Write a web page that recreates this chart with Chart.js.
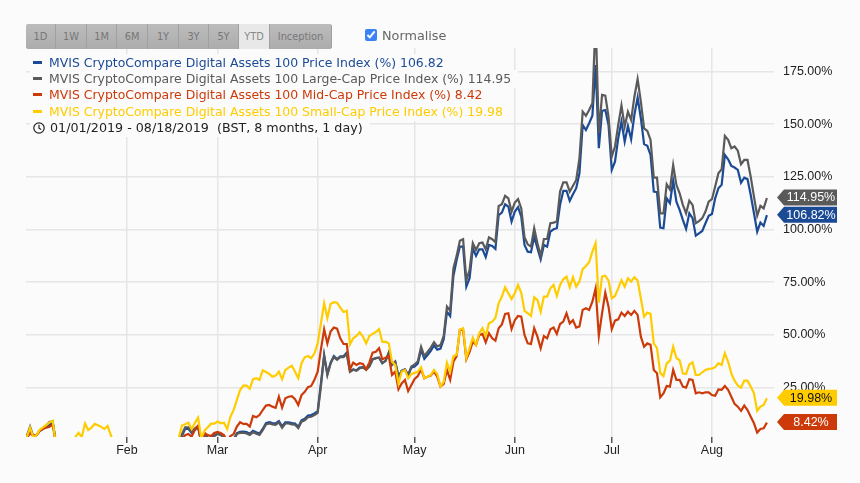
<!DOCTYPE html>
<html>
<head>
<meta charset="utf-8">
<script src="https://cdn.jsdelivr.net/npm/chart.js@4/dist/chart.umd.min.js"></script>
<style>
  html, body { margin: 0; padding: 0; background: #fbfbfb; }
  #wrap { position: relative; width: 860px; height: 483px; overflow: hidden; font-family: "DejaVu Sans", sans-serif; }
  canvas { position: absolute; left: 0; top: 0; }
  #buttons { position: absolute; left: 26px; top: 24px; height: 25px; display: flex; border-radius: 3px; overflow: hidden; box-shadow: 0 0 0 1px #a3a3a3 inset; }
  #buttons div { height: 25px; line-height: 25px; text-align: center; font-size: 9.8px; color: #777; background: linear-gradient(#bcbcbc, #acacac); border-right: 1px solid #a0a0a0; box-sizing: border-box; }
  #buttons div.on { background: #e8e8e8; color: #888; }
  #normalise { position: absolute; left: 365px; top: 27px; font-size: 12.8px; color: #666; line-height: 17px; }
  #normalise input { position: absolute; left: 0; top: 2px; margin: 0; width: 12px; height: 12px; accent-color: #3b82f6; }
  #normalise span { margin-left: 17px; }
  .row { position: absolute; left: 30px; height: 18px; line-height: 18px; font-size: 12.45px; white-space: nowrap; background: #fbfbfb; padding: 0 7px 0 3px; }
  .row i { display: inline-block; width: 9px; height: 3px; margin-right: 7px; vertical-align: 3px; }
  .row svg { vertical-align: -2px; margin-right: 5px; }
</style>
</head>
<body>
<div id="wrap">
  <canvas id="chart" width="860" height="483"></canvas>
  <div id="buttons"></div>
  <div id="normalise"><input type="checkbox" checked><span>Normalise</span></div>
  <div id="legend"></div>
</div>
<script>
// one value per day, 1 Jan 2019 to 18 Aug 2019
const priceIndex = [
  1.5,5,2,2.5,4.5,5.5,6.5,7.5,8.5,-1,
  -4,-5,-6,-6,-6,-5,-4,-5,-4,-5,
  -5,-4,-4,-5,-5,-4,-6,-8,-10,-11,
  -13,-13,-14,-15,-16,-15,-16,-15,-14,-15,
  -14,-13,-12,-11,-9,-8,-6,-3,2,5.5,
  5.5,3.6,5,6.2,-1,3,1.2,1.2,2.3,3.3,
  2.8,1.8,-1,-1,0.5,3.4,4,4.2,3.9,3.2,
  4.5,3.8,3.2,5.4,8.2,8.6,8.2,8,9.1,6.7,
  8.6,8.6,8.2,8,6.4,9.5,10.2,11.8,12,12.8,
  13.9,27,40.5,31.5,36.9,40,38.6,39.9,39.9,41.6,
  32.9,33.7,33.2,34.5,34.7,33.7,35.3,38.5,39,39.2,
  36.6,37.7,41.6,35.8,37.3,30.2,33,33.7,31,34.5,
  35,36.5,43,38.7,40.5,42.5,45,43,43.5,48,
  61,59,78,85.5,91.9,91.9,72.9,76.9,91.1,87.5,
  90.6,90.6,86.9,92.7,92.2,90.8,106.9,108,112,110.9,
  103.8,108.5,110.6,106.1,92.7,89.5,89.2,96.6,91.1,85.9,
  92.7,91.9,99,100.1,100.6,111.7,118.3,118.3,113.6,116.7,
  119.6,126.7,149.6,147.2,150.4,154,178,138.6,156.3,156.7,
  149.6,128.3,132.2,143.3,151.2,141.7,149.1,142.8,154.4,162.6,
  152.8,140.5,139.7,135.4,118,117.7,100.9,100.6,114.8,112.5,
  123.2,113.2,109.3,104.6,100.3,107.7,105.4,97.1,98.2,99.3,
  103,106.5,107.4,114.8,119.6,121.2,135.4,133.3,130.2,129.4,
  128.3,122.2,124.6,123.9,116.4,107.7,99,103.3,101.7,106.82
];
const largeCap = [
  2,6.5,2,2.5,4.5,5.5,7,8.7,9,-1,
  -4,-5,-6,-6,-6,-5,-4,-5,-4,-5,
  -5,-4,-4,-5,-5,-4,-6,-8,-10,-11,
  -13,-13,-14,-15,-16,-15,-16,-15,-14,-15,
  -14,-13,-12,-11,-9,-8,-6,-3,3,6.2,
  6.2,4.1,5.7,6.8,-1,3,1,1,2,3,
  2.5,1.5,-1,-1,0,3,3.6,3.6,3.3,2.6,
  3.9,3.2,2.6,4.8,7.5,8,7.6,7.4,8.5,6,
  8,8,7.6,7.4,5.8,8.8,9.5,11,11.2,12,
  13,25.5,40,31,36.4,39.5,38.2,39.5,39.5,41,
  32.5,33.5,33,34.2,34.6,33.5,35,38.3,39,39.2,
  36.6,37.7,41.6,35.8,37.3,30.2,33,33.7,31,35,
  36,37.5,44.4,40,42,44,46.6,44.6,45.2,49.6,
  63.5,61.5,81.6,87.5,94.7,95.4,76,80.8,93.5,90.3,
  93.5,93.8,90.6,96.3,95.4,94,111.2,112,116,114.8,
  108.5,112.8,114.4,110,96.3,93,91.9,100.6,93.5,87.5,
  95.5,95.5,103,103.3,103.8,118,122.4,122.4,118,120.8,
  123.5,133.8,155.9,154,156.7,159.9,200,145.7,163.9,163.5,
  153.6,134.6,139.4,149.6,158.8,148.8,155.9,152,163,171.4,
  160.7,148,146.8,142.5,124.6,124.6,107.7,107.7,121.5,119,
  130.6,121.2,117.2,111.7,107.7,113.7,111.7,103,104,105.4,
  108.5,113.2,114.4,120.4,126.7,128.6,144.4,142.5,138.6,139.4,
  137.4,131,133,133,125,115.6,106.6,111.2,110,114.95
];
const midCap = [
  1,3.5,2,2.5,4.5,5.5,6,6.5,7.5,-1,
  -4,-5,-6,-5,-6,-5,-4,-5,-3,-5,
  -4,-3,-3,-4,-5,-4,-6,-8,-10,-11,
  -12,-12,-13,-14,-15,-14,-15,-14,-13,-14,
  -13,-12,-11,-10,-8,-7,-5,-3,0.5,2.5,
  3,1.8,4.9,7,-1,3.5,2.5,2,3.5,4,
  3.5,2.5,-0.5,2,3,6.5,8.6,7.8,7.8,6.5,
  11.6,11,12,14.4,16.5,16.8,16,15.4,20.7,15.5,
  20,20.7,21,19.5,16.8,21.5,23,25.2,25.8,28.7,
  32.6,43,52.7,46,51.6,53.5,53,48.4,45.7,45.7,
  33.7,36.9,35.8,36.6,36.2,33.7,37,41.6,42,43.7,
  38.5,39.2,40,31,32.6,24.2,27,28.7,23.4,26.3,
  29.1,30.5,33.7,29.5,30.2,30.7,32.6,30.2,25.5,26.8,
  33.4,28.7,37.3,40,52.4,52.4,38.5,42,46.8,45.3,
  50,50.5,46.5,50.8,48.4,47.3,53.2,55,60,60.3,
  52.8,57,59,58.7,50,46,45.7,53.2,49.2,43.7,
  49.5,48.4,52.7,53.5,50.5,55.2,56.3,60.3,55.5,57,
  53.5,54,61.9,62.7,61.9,65.8,72.1,49.5,60.3,70,
  63.4,52.8,56.8,57.4,60.6,59,61,59.5,61.4,59.5,
  49.2,44.4,46,45.3,33.4,31.8,20.4,22.3,25.8,25.5,
  33.4,28.7,28.7,25.5,25,29,28.7,22.3,22.8,22.3,
  22.8,22.8,21.5,21.2,24.2,24,25.8,24,20.7,17.3,
  16,14,16.5,14.4,11.2,8.1,3.7,5.4,5.7,8.42
];
const smallCap = [
  1.5,6,1.5,2.5,5,6.2,7.3,8.4,9.3,-2,
  -5,-6,-5,-3,-1,1.5,3.6,1.5,8,4.9,
  6,7.8,7.2,6.4,5.4,6.8,2.5,-2,-5,-8,
  -9,-10,-12,-13,-12,-14,-13,-12,-13,-12,
  -11,-12,-10,-9,-7,-6,-5,1,7,7.6,
  8.4,5.4,8.2,10.8,1,4.6,6.2,7.9,7.9,8.9,
  8.1,8.4,5.4,11.2,14.4,19.2,23.9,26,26,24.5,
  29,29.5,28.7,33.2,32.4,31.5,30.2,30.7,32.6,29,
  33.4,34.5,35.4,32.6,29.5,36.6,39.4,40,39,41.3,
  46,55.5,65,58,64.7,65.6,65.3,63,60.9,61.5,
  45.6,48.4,49.5,51.3,49.2,46,49.5,50.5,51.4,52.8,
  46.7,46.8,46,37.3,35.8,27,32.6,33.4,29.5,31.5,
  32,32.6,34.7,29.5,30.2,31,33.4,31.5,25.5,27.8,
  36.9,32.6,40,40.5,52.4,53.2,39,43.7,48.7,45.3,
  50.8,53.2,49.5,55.5,56.3,58,65,68.2,72.6,69.8,
  67.1,69.8,73.7,70,61.4,60.3,59,67.9,66.6,61,
  68.2,68.2,72.1,73.7,68.5,73.7,76.4,77.7,72.6,77.4,
  72.9,75.3,81.2,82.7,84.5,89.5,93.5,65.3,77.7,78.1,
  75.8,67.4,68.5,72.1,76,72.9,76.9,75.3,77.4,75.8,
  67.4,58.7,60.6,60,46,43.7,32,30.5,36.5,37.8,
  44.4,39,38,31.7,31.5,36,37,31,31,32.3,
  33.4,33.9,34,34.7,36.6,35.8,41.3,37.3,31.8,28.3,
  26,25,28.3,28.3,25.5,22.3,14,16,16.8,19.98
];

const monthDays = [31, 59, 90, 120, 151, 181, 212];
const monthLabels = ['Feb', 'Mar', 'Apr', 'May', 'Jun', 'Jul', 'Aug'];
const yTicks = [25, 50, 75, 100, 125, 150, 175];
const rangeNames = ['1D', '1W', '1M', '6M', '1Y', '3Y', '5Y', 'YTD', 'Inception'];
const rangeWidths = [30, 31, 30, 31, 31, 30, 30, 31, 62];
const seriesNames = [
  'MVIS CryptoCompare Digital Assets 100 Price Index (%)',
  'MVIS CryptoCompare Digital Assets 100 Large-Cap Price Index (%)',
  'MVIS CryptoCompare Digital Assets 100 Mid-Cap Price Index (%)',
  'MVIS CryptoCompare Digital Assets 100 Small-Cap Price Index (%)'
];
const seriesData = [priceIndex, largeCap, midCap, smallCap];
const seriesColors = ['#1c4b96', '#5a5a5a', '#cc3a0a', '#ffcc00'];
const flagText = ['#fff', '#fff', '#fff', '#111'];

// range buttons
const btnBox = document.getElementById('buttons');
rangeNames.forEach((name, i) => {
  const b = document.createElement('div');
  b.textContent = name;
  b.style.width = rangeWidths[i] + 'px';
  if (name === 'YTD') b.className = 'on';
  btnBox.appendChild(b);
});

// legend rows, each one hides the grid behind its own text
const legendBox = document.getElementById('legend');
seriesNames.forEach((name, i) => {
  const data = seriesData[i];
  const row = document.createElement('div');
  row.className = 'row';
  row.style.top = (53.7 + i * 16.35) + 'px';
  row.style.color = seriesColors[i];
  row.innerHTML = `<i style="background:${seriesColors[i]}"></i>${name} ${data[data.length - 1]}`;
  legendBox.appendChild(row);
});
const dateRow = document.createElement('div');
dateRow.className = 'row';
dateRow.style.top = '119px';
dateRow.style.color = '#222';
dateRow.style.fontSize = '12.7px';
dateRow.innerHTML = '<svg width="12" height="12" viewBox="0 0 12 12" fill="none" stroke="#222" stroke-width="1.2"><circle cx="6" cy="6" r="5.2"/><path d="M6 2.8V6.2L8.2 7.6"/></svg>01/01/2019 - 08/18/2019 &nbsp;(BST, 8 months, 1 day)';
legendBox.appendChild(dateRow);

// value flags on the right, hung off the y scale
const flagPlugin = {
  id: 'flags',
  afterDraw(chart) {
    const ctx = chart.ctx;
    const yScale = chart.scales.y;
    seriesData.forEach((data, i) => {
      const val = data[data.length - 1];
      const py = yScale.getPixelForValue(val) - 0.5;
      ctx.fillStyle = seriesColors[i];
      ctx.beginPath();
      ctx.moveTo(777, py);
      ctx.lineTo(784, py - 8);
      ctx.lineTo(837, py - 8);
      ctx.lineTo(837, py + 8);
      ctx.lineTo(784, py + 8);
      ctx.closePath();
      ctx.fill();
      ctx.fillStyle = flagText[i];
      ctx.font = '12.5px "Liberation Sans"';
      ctx.textAlign = 'center';
      ctx.textBaseline = 'middle';
      ctx.fillText(val.toFixed(2) + '%', 811, py + 0.5);
    });
  }
};

const chart = new Chart(document.getElementById('chart').getContext('2d'), {
  type: 'line',
  data: {
    datasets: seriesData.map((data, i) => ({
      label: seriesNames[i],
      data: data.map((v, day) => ({ x: day, y: v })),
      borderColor: seriesColors[i],
      borderWidth: 2.2,
      pointRadius: 0,
      tension: 0,
      clip: 0,
      order: seriesData.length - i
    }))
  },
  options: {
    responsive: false,
    animation: false,
    layout: { padding: { left: 26, top: 48, right: 0, bottom: 0 } },
    plugins: { legend: { display: false }, tooltip: { enabled: false } },
    scales: {
      x: {
        type: 'linear',
        min: -0.25,
        max: 231.2,
        border: { display: false },
        grid: { color: '#e6e6e6', lineWidth: 1.5, tickColor: '#555', tickLength: 6 },
        ticks: {
          color: '#222',
          font: { family: '"Liberation Sans"', size: 12.5 },
          padding: 0,
          maxRotation: 0,
          autoSkip: false,
          callback: v => monthLabels[monthDays.indexOf(v)]
        },
        afterBuildTicks(axis) { axis.ticks = monthDays.map(v => ({ value: v })); },
        afterFit(axis) { axis.height = 46; }
      },
      y: {
        position: 'right',
        min: 1.6,
        max: 186.1,
        border: { display: false },
        grid: { color: '#e6e6e6', lineWidth: 1.5, drawTicks: false },
        ticks: {
          color: '#222',
          font: { family: '"Liberation Sans"', size: 12.5 },
          padding: 9,
          callback: v => v.toFixed(2) + '%'
        },
        afterBuildTicks(axis) { axis.ticks = yTicks.map(v => ({ value: v })); },
        afterFit(axis) { axis.width = 86; }
      }
    }
  },
  plugins: [flagPlugin]
});
</script>
</body>
</html>
